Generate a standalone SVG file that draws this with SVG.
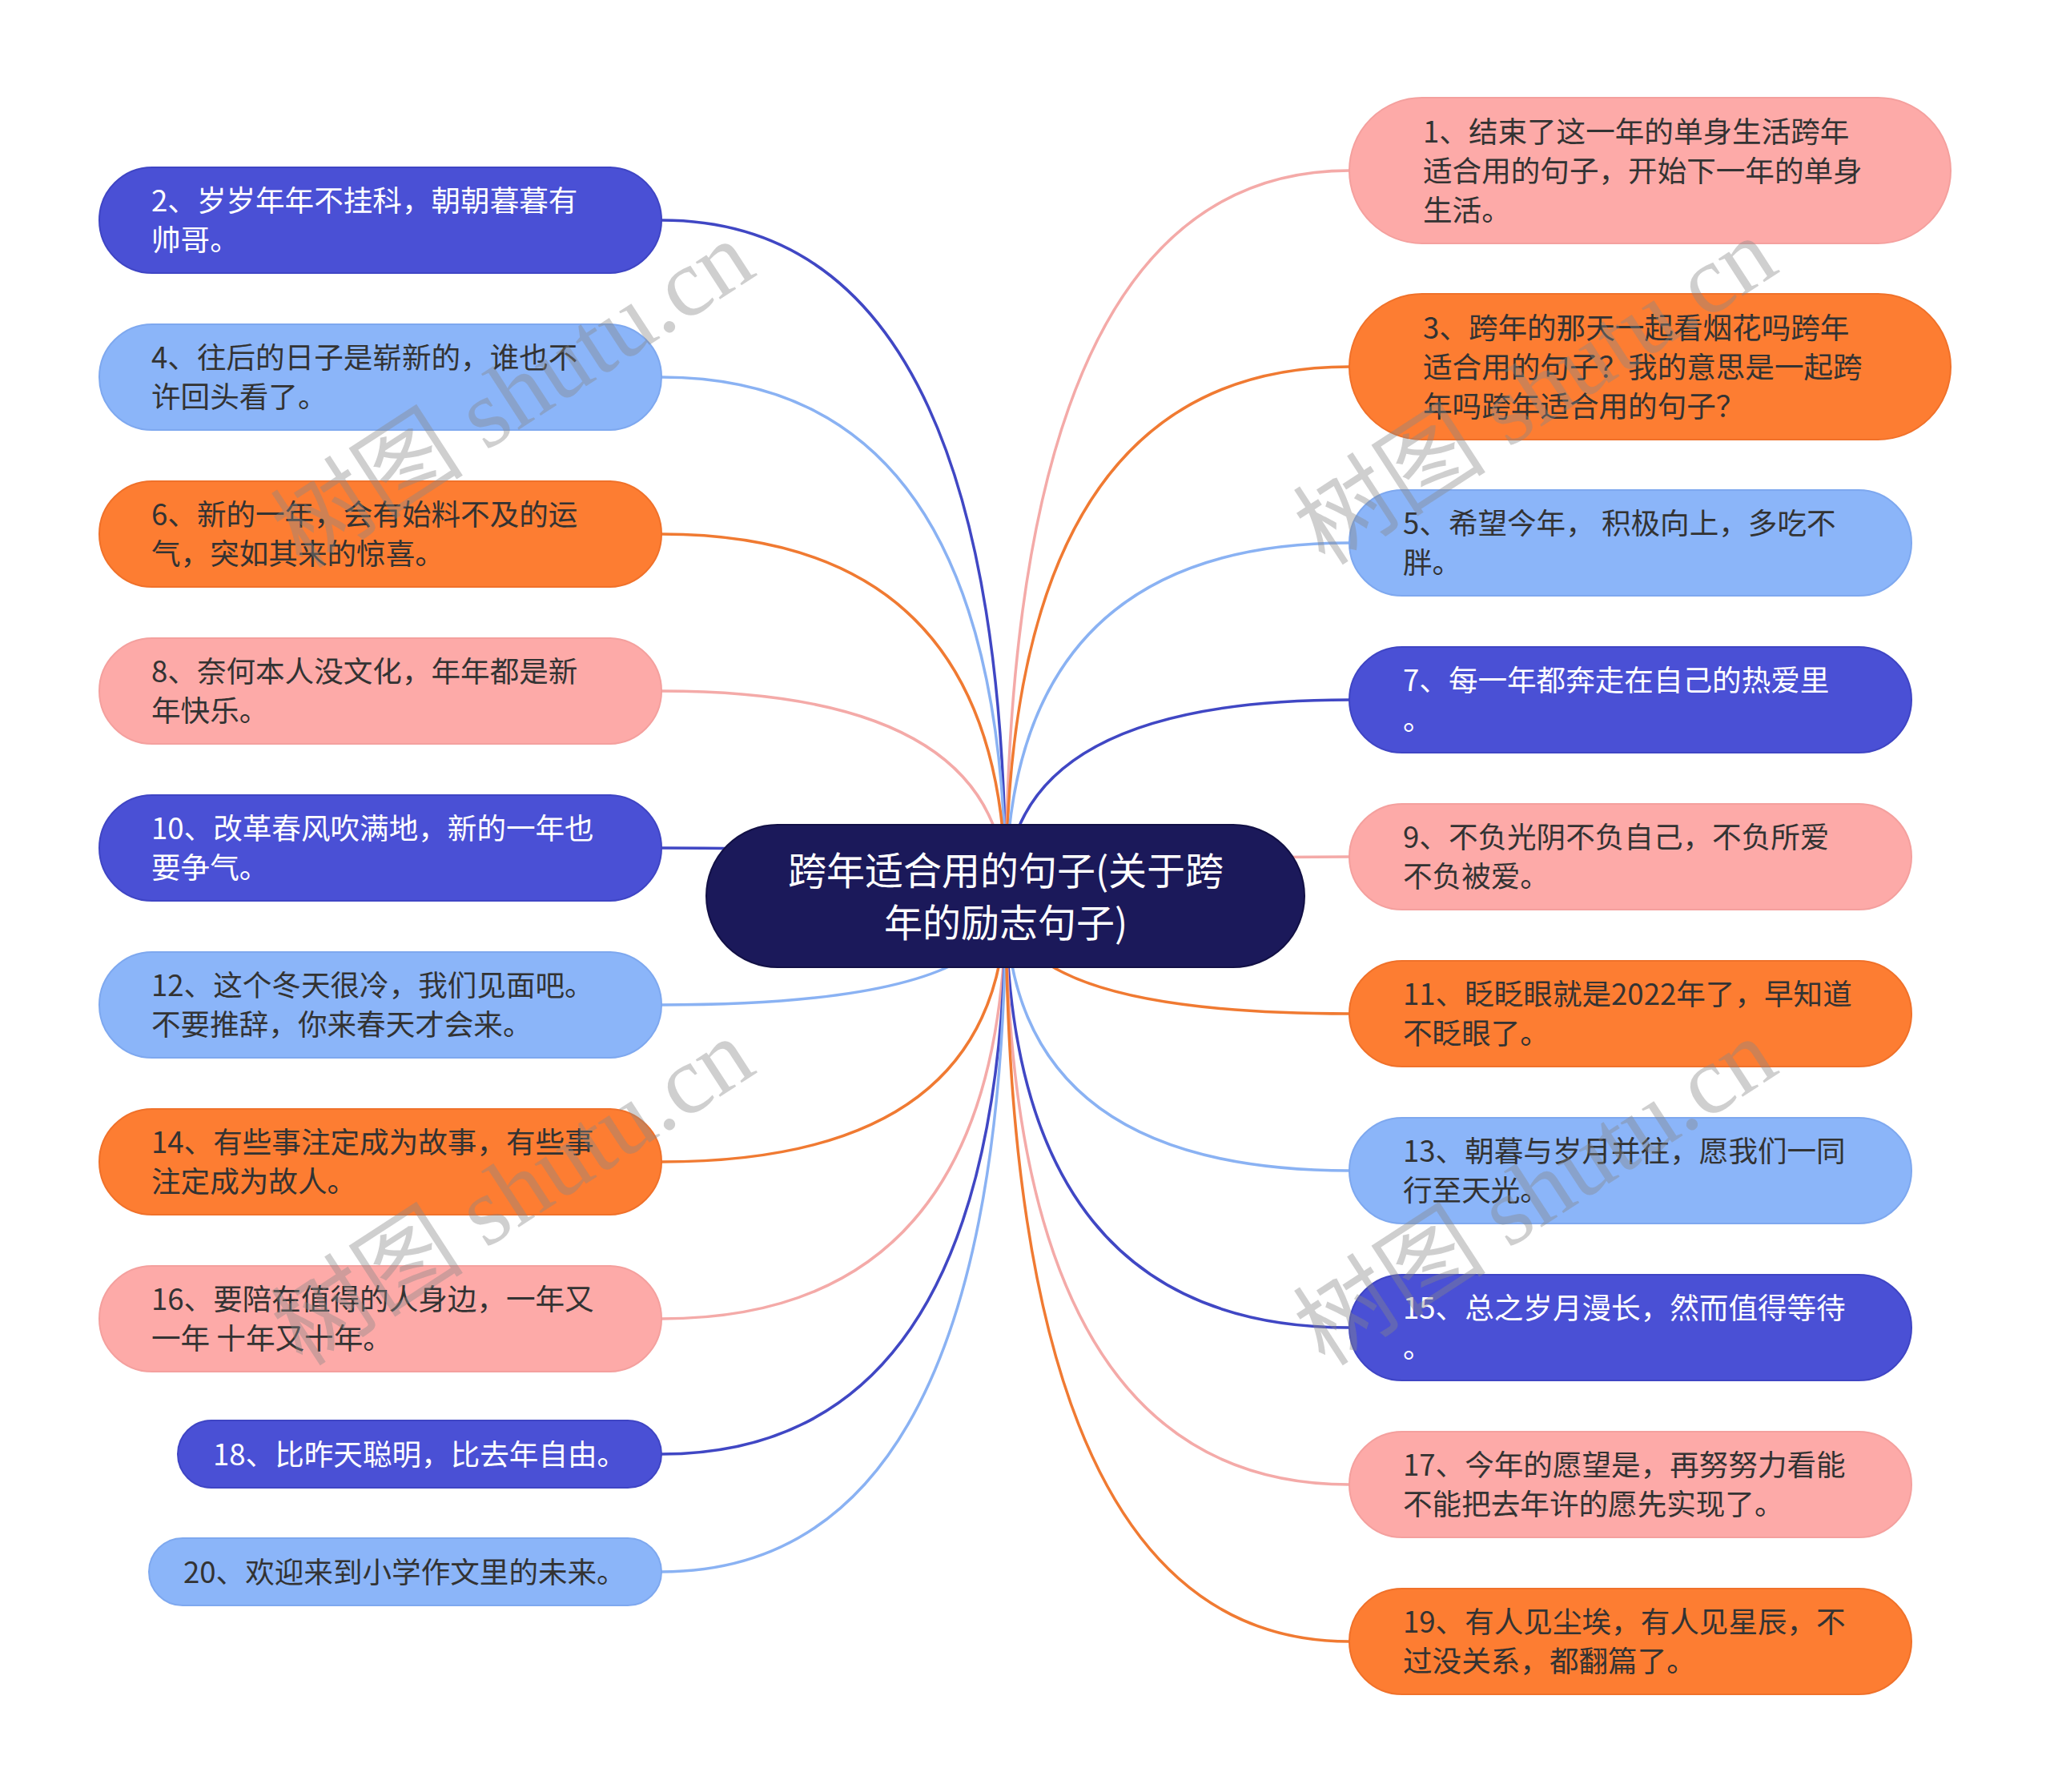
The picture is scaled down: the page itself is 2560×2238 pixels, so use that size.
<svg xmlns="http://www.w3.org/2000/svg" width="2560" height="2238" viewBox="0 0 2560 2238">
<style>
.t{font-family:"Noto Sans CJK SC","Noto Sans",sans-serif;font-size:36.6px;dominant-baseline:central;fill:#333333}
.w{fill:#ffffff}
.c{font-family:"Noto Sans CJK SC","Noto Sans",sans-serif;font-size:48px;dominant-baseline:central;fill:#ffffff;text-anchor:middle}
.db{fill:#4a50d5;stroke:#3f45c4;stroke-width:2}
.lb{fill:#8bb5f9;stroke:#7ea8ef;stroke-width:2}
.or{fill:#fd7d32;stroke:#f0712a;stroke-width:2}
.pk{fill:#fdaaa8;stroke:#f4a09e;stroke-width:2}
.e{fill:none;stroke-width:3.5}
.edb{stroke:#4047c4}
.elb{stroke:#8ab2f3}
.eor{stroke:#f07a32}
.epk{stroke:#f4aaa8}
.wm{font-family:"Liberation Serif","Noto Sans CJK SC",serif;font-size:121px;fill:#888888;fill-opacity:0.4}
</style>
<rect x="0" y="0" width="2560" height="2238" fill="#ffffff"/>
<g id="connectors">
<path class="e edb" d="M1256 1119 Q1256 275 826 275"/>
<path class="e elb" d="M1256 1119 Q1256 471 826 471"/>
<path class="e eor" d="M1256 1119 Q1256 667 826 667"/>
<path class="e epk" d="M1256 1119 Q1256 863 826 863"/>
<path class="e edb" d="M1256 1119 Q1256 1059 826 1059"/>
<path class="e elb" d="M1256 1119 Q1256 1255 826 1255"/>
<path class="e eor" d="M1256 1119 Q1256 1451 826 1451"/>
<path class="e epk" d="M1256 1119 Q1256 1647 826 1647"/>
<path class="e edb" d="M1256 1119 Q1256 1816 826 1816"/>
<path class="e elb" d="M1256 1119 Q1256 1963 826 1963"/>
<path class="e epk" d="M1256 1119 Q1256 213 1685 213"/>
<path class="e eor" d="M1256 1119 Q1256 458 1685 458"/>
<path class="e elb" d="M1256 1119 Q1256 678 1685 678"/>
<path class="e edb" d="M1256 1119 Q1256 874 1685 874"/>
<path class="e epk" d="M1256 1119 Q1256 1070 1685 1070"/>
<path class="e eor" d="M1256 1119 Q1256 1266 1685 1266"/>
<path class="e elb" d="M1256 1119 Q1256 1462 1685 1462"/>
<path class="e edb" d="M1256 1119 Q1256 1658 1685 1658"/>
<path class="e epk" d="M1256 1119 Q1256 1854 1685 1854"/>
<path class="e eor" d="M1256 1119 Q1256 2050 1685 2050"/>
</g>
<g id="center">
<rect x="882" y="1030" width="747" height="178" rx="89" fill="#1b195a" stroke="#121045" stroke-width="2"/>
<text class="c" x="1256" y="1084">跨年适合用的句子(关于跨</text>
<text class="c" x="1256" y="1149">年的励志句子)</text>
</g>
<g id="n2"><rect class="db" x="124" y="209" width="702" height="132" rx="66"/><text class="t w" x="189" y="248">2、岁岁年年不挂科，朝朝暮暮有</text><text class="t w" x="189" y="297">帅哥。</text></g>
<g id="n4"><rect class="lb" x="124" y="405" width="702" height="132" rx="66"/><text class="t" x="189" y="444">4、往后的日子是崭新的，谁也不</text><text class="t" x="189" y="493">许回头看了。</text></g>
<g id="n6"><rect class="or" x="124" y="601" width="702" height="132" rx="66"/><text class="t" x="189" y="640">6、新的一年，会有始料不及的运</text><text class="t" x="189" y="689">气，突如其来的惊喜。</text></g>
<g id="n8"><rect class="pk" x="124" y="797" width="702" height="132" rx="66"/><text class="t" x="189" y="836">8、奈何本人没文化，年年都是新</text><text class="t" x="189" y="885">年快乐。</text></g>
<g id="n10"><rect class="db" x="124" y="993" width="702" height="132" rx="66"/><text class="t w" x="189" y="1032">10、改革春风吹满地，新的一年也</text><text class="t w" x="189" y="1081">要争气。</text></g>
<g id="n12"><rect class="lb" x="124" y="1189" width="702" height="132" rx="66"/><text class="t" x="189" y="1228">12、这个冬天很冷，我们见面吧。</text><text class="t" x="189" y="1277">不要推辞，你来春天才会来。</text></g>
<g id="n14"><rect class="or" x="124" y="1385" width="702" height="132" rx="66"/><text class="t" x="189" y="1424">14、有些事注定成为故事，有些事</text><text class="t" x="189" y="1473">注定成为故人。</text></g>
<g id="n16"><rect class="pk" x="124" y="1581" width="702" height="132" rx="66"/><text class="t" x="189" y="1620">16、要陪在值得的人身边，一年又</text><text class="t" x="189" y="1669">一年 十年又十年。</text></g>
<g id="n18"><rect class="db" x="222" y="1774" width="604" height="84" rx="42"/><text class="t w" x="266" y="1814">18、比昨天聪明，比去年自由。</text></g>
<g id="n20"><rect class="lb" x="186" y="1921" width="640" height="84" rx="42"/><text class="t" x="229" y="1961">20、欢迎来到小学作文里的未来。</text></g>
<g id="n1"><rect class="pk" x="1685" y="122" width="751" height="182" rx="91"/><text class="t" x="1777" y="162">1、结束了这一年的单身生活跨年</text><text class="t" x="1777" y="211">适合用的句子，开始下一年的单身</text><text class="t" x="1777" y="260">生活。</text></g>
<g id="n3"><rect class="or" x="1685" y="367" width="751" height="182" rx="91"/><text class="t" x="1777" y="407">3、跨年的那天一起看烟花吗跨年</text><text class="t" x="1777" y="456">适合用的句子？我的意思是一起跨</text><text class="t" x="1777" y="505">年吗跨年适合用的句子？</text></g>
<g id="n5"><rect class="lb" x="1685" y="612" width="702" height="132" rx="66"/><text class="t" x="1752" y="651">5、希望今年， 积极向上，多吃不</text><text class="t" x="1752" y="700">胖。</text></g>
<g id="n7"><rect class="db" x="1685" y="808" width="702" height="132" rx="66"/><text class="t w" x="1752" y="847">7、每一年都奔走在自己的热爱里</text><text class="t w" x="1752" y="896">。</text></g>
<g id="n9"><rect class="pk" x="1685" y="1004" width="702" height="132" rx="66"/><text class="t" x="1752" y="1043">9、不负光阴不负自己，不负所爱</text><text class="t" x="1752" y="1092">不负被爱。</text></g>
<g id="n11"><rect class="or" x="1685" y="1200" width="702" height="132" rx="66"/><text class="t" x="1752" y="1239">11、眨眨眼就是2022年了，早知道</text><text class="t" x="1752" y="1288">不眨眼了。</text></g>
<g id="n13"><rect class="lb" x="1685" y="1396" width="702" height="132" rx="66"/><text class="t" x="1752" y="1435">13、朝暮与岁月并往，愿我们一同</text><text class="t" x="1752" y="1484">行至天光。</text></g>
<g id="n15"><rect class="db" x="1685" y="1592" width="702" height="132" rx="66"/><text class="t w" x="1752" y="1631">15、总之岁月漫长，然而值得等待</text><text class="t w" x="1752" y="1680">。</text></g>
<g id="n17"><rect class="pk" x="1685" y="1788" width="702" height="132" rx="66"/><text class="t" x="1752" y="1827">17、今年的愿望是，再努努力看能</text><text class="t" x="1752" y="1876">不能把去年许的愿先实现了。</text></g>
<g id="n19"><rect class="or" x="1685" y="1984" width="702" height="132" rx="66"/><text class="t" x="1752" y="2023">19、有人见尘埃，有人见星辰，不</text><text class="t" x="1752" y="2072">过没关系，都翻篇了。</text></g>
<g id="watermarks">
<text class="wm" x="378" y="712" transform="rotate(-33 378 712)">树图 shutu.cn</text>
<text class="wm" x="378" y="1708" transform="rotate(-33 378 1708)">树图 shutu.cn</text>
<text class="wm" x="1655" y="708" transform="rotate(-33 1655 708)">树图 shutu.cn</text>
<text class="wm" x="1655" y="1708" transform="rotate(-33 1655 1708)">树图 shutu.cn</text>
</g>
</svg>
